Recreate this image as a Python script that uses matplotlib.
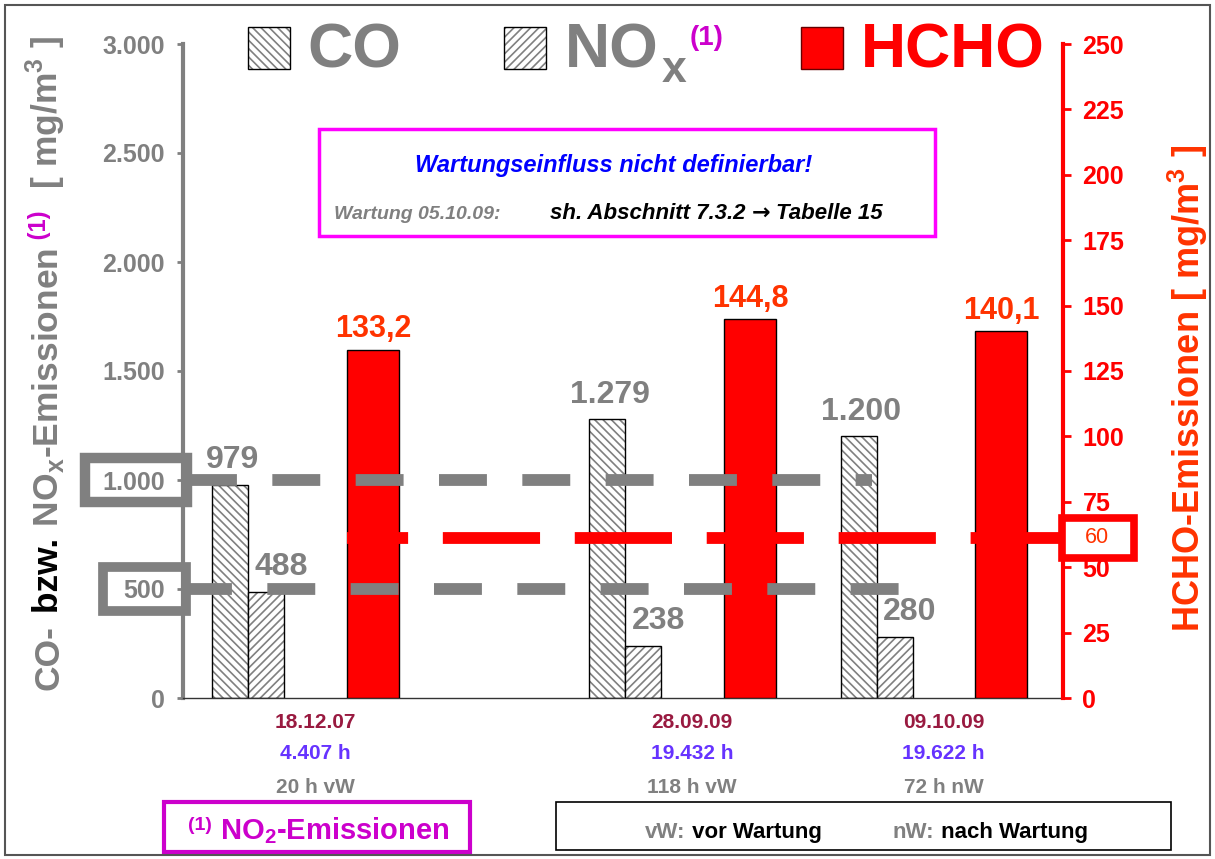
import matplotlib
matplotlib.use('Agg')
import matplotlib.pyplot as plt
import matplotlib.transforms as mtransforms
from matplotlib.patches import Rectangle
from matplotlib import font_manager

# data
dates = ['18.12.07', '28.09.09', '09.10.09']
hours = ['4.407 h', '19.432 h', '19.622 h']
runtime = ['20 h vW', '118 h vW', '72 h nW']
co = [979, 1279, 1200]
nox = [488, 238, 280]
hcho = [133.2, 144.8, 140.1]
co_ticks = [0, 500, 1000, 1500, 2000, 2500, 3000]
hcho_ticks = [0, 25, 50, 75, 100, 125, 150, 175, 200, 225, 250]
limits_co_nox = [1000, 500]
limit_hcho = 60

W, H = 1215, 859
GRAY = '#808080'
RED = '#FF0000'
ORANGE = '#FF3300'
MAG = '#CC00CC'

plt.rcParams['font.family'] = ['Liberation Sans', 'DejaVu Sans']
plt.rcParams['hatch.linewidth'] = 1.2
plt.rcParams['lines.scale_dashes'] = False
names = {f.name for f in font_manager.fontManager.ttflist}
NARROW = ['Liberation Sans Narrow', 'Liberation Sans', 'DejaVu Sans'] if 'Liberation Sans Narrow' in names \
    else ['Liberation Sans', 'DejaVu Sans']


def de(v, dec=0):
    s = f'{v:,.{dec}f}'
    return s.replace(',', '#').replace('.', ',').replace('#', '.')


def fx(px):
    return px / W


def fy(py):
    return 1 - py / H


fig = plt.figure(figsize=(W / 100, H / 100), dpi=100)
ax = fig.add_axes([fx(183), fy(698), fx(1063 - 183), (698 - 44) / H])
ax2 = ax.twinx()
ax.set_xlim(0, 7)
ax.set_ylim(0, 3000)
ax2.set_ylim(0, 250)

slots = [1, 4, 6]
w_small, w_big = 0.286, 0.414
off_co, off_nox, off_hcho = -0.625, -0.34, 0.51

x_co = [s + off_co for s in slots]
x_nox = [s + off_nox for s in slots]
x_hcho = [s + off_hcho for s in slots]

# hatched bars: hatch in gray, outline in black
ax.bar(x_co, co, w_small, color='white', edgecolor=GRAY, hatch=r'\\\\', linewidth=0, zorder=2)
ax.bar(x_co, co, w_small, fill=False, edgecolor='black', linewidth=1, zorder=2)
ax.bar(x_nox, nox, w_small, color='white', edgecolor=GRAY, hatch='////', linewidth=0, zorder=2)
ax.bar(x_nox, nox, w_small, fill=False, edgecolor='black', linewidth=1, zorder=2)
ax2.bar(x_hcho, hcho, w_big, color=RED, edgecolor='black', linewidth=1, zorder=2)

lab = dict(color=GRAY, fontsize=23, fontweight='bold', ha='center', va='baseline')
for x, v in zip(x_co, co):
    ax.annotate(de(v), (x, v), xytext=(2, 12), textcoords='offset points', **lab)
for x, v in zip(x_nox, nox):
    ax.annotate(de(v), (x, v), xytext=(11, 12), textcoords='offset points', **lab)
for x, v in zip(x_hcho, hcho):
    ax2.annotate(de(v, 1), (x, v), xytext=(0, 9), textcoords='offset points',
                 color=ORANGE, fontsize=22, fontweight='bold', ha='center', va='baseline')

# reference lines (drawn on ax2 so they lie above every bar)
starts = [0.048, 0.008]
ends = [5.48, 5.70]
for y, x0, x1 in zip(limits_co_nox, starts, ends):
    ln, = ax2.plot([x0, x1], [y, y], color=GRAY, lw=8.5, transform=ax.transData, zorder=5,
                   solid_capstyle='butt', dash_capstyle='butt')
    ln.set_linestyle((0, (34.5, 25.5)))
ln, = ax2.plot([1.305, 7.0], [limit_hcho + 1.2, limit_hcho + 1.2], color=RED, lw=8.5, zorder=4,
               dash_capstyle='butt')
ln.set_linestyle((26, (70, 25)))

# axes styling
for s in ['top', 'right']:
    ax.spines[s].set_visible(False)
ax.spines['left'].set_color(GRAY)
ax.spines['left'].set_linewidth(3)
ax.spines['bottom'].set_color('#333333')
ax.spines['bottom'].set_linewidth(1)
for s in ['top', 'left', 'bottom']:
    ax2.spines[s].set_visible(False)
ax2.spines['right'].set_color(RED)
ax2.spines['right'].set_linewidth(3)

ax.set_xticks([])
ax.set_yticks(co_ticks)
ax.set_yticklabels([de(t) for t in co_ticks], fontweight='bold')
ax.tick_params(axis='y', colors=GRAY, width=2, length=4, labelsize=18, pad=9)
ax2.set_yticks(hcho_ticks)
ax2.set_yticklabels([str(t) for t in hcho_ticks], fontweight='bold')
ax2.tick_params(axis='y', colors=RED, width=2, length=6, labelsize=18, pad=8)

# category labels below the axis
bt = mtransforms.blended_transform_factory(ax.transData, fig.transFigure)
for s, d, h, r in zip(slots, dates, hours, runtime):
    ax.text(s + 0.05, fy(728), d, transform=bt, ha='center', va='baseline', color='#991A40',
            fontsize=15, family=NARROW, fontweight='bold')
    ax.text(s + 0.05, fy(759), h, transform=bt, ha='center', va='baseline', color='#6633FF',
            fontsize=15, family=NARROW, fontweight='bold')
    ax.text(s + 0.05, fy(793), r, transform=bt, ha='center', va='baseline', color=GRAY,
            fontsize=15, family=NARROW, fontweight='bold')

renderer = fig.canvas.get_renderer()


def run(x, y, pieces, rot=False, gap=0):
    # pieces: (text, props, shift in px perpendicular to the baseline)
    for s, kw, shift in pieces:
        if not rot:
            t = fig.text(fx(x), fy(y + shift), s, ha='left', va='baseline', **kw)
            bb = t.get_window_extent(renderer)
            x = bb.x1 + gap
        else:
            t = fig.text(fx(x + shift), fy(y), s, rotation=90, rotation_mode='anchor',
                         ha='left', va='baseline', **kw)
            bb = t.get_window_extent(renderer)
            y = H - bb.y1 - gap


# axis titles
big = dict(fontsize=25.5, fontweight='bold')
run(58, 690, [('CO-', dict(color=GRAY, **big), 0),
              (' bzw.', dict(color='black', **big), 0),
              (r' NO$_\mathregular{x}$-Emissionen', dict(color=GRAY, **big), 0),
              (' (1)', dict(color=MAG, fontsize=17, fontweight='bold'), -12),
              (r'  [ mg/m$^\mathregular{3}$ ]', dict(color=GRAY, **big), 0)], rot=True, gap=2)
run(1200, 632, [(r'HCHO-Emissionen [ mg/m$^\mathregular{3}$ ]', dict(color=ORANGE, fontsize=26,
                                                                     fontweight='bold'), 0)], rot=True)

# legend on top
leg = dict(fontsize=45, fontweight='bold')
fig.add_artist(Rectangle((fx(248), fy(69)), fx(42), 42 / H, facecolor='white', edgecolor=GRAY,
                         hatch=r'\\\\', lw=0))
fig.add_artist(Rectangle((fx(248), fy(69)), fx(42), 42 / H, fill=False, edgecolor='black', lw=1))
run(307, 68, [('CO', dict(color=GRAY, **leg), 0)])
fig.add_artist(Rectangle((fx(504), fy(69)), fx(42), 42 / H, facecolor='white', edgecolor=GRAY,
                         hatch='////', lw=0))
fig.add_artist(Rectangle((fx(504), fy(69)), fx(42), 42 / H, fill=False, edgecolor='black', lw=1))
run(565, 68, [('NO', dict(color=GRAY, **leg), 0),
              ('x', dict(color=GRAY, fontsize=32, fontweight='bold'), 14),
              ('(1)', dict(color=MAG, fontsize=20, fontweight='bold'), -23)], gap=3)
fig.add_artist(Rectangle((fx(801), fy(69)), fx(42), 42 / H, facecolor=RED, edgecolor='#660000', lw=1))
run(861, 68, [('HCHO', dict(color=RED, **leg), 0)])

# note box
fig.add_artist(Rectangle((fx(319), fy(236)), fx(935 - 319), (236 - 129) / H, fill=False,
                         edgecolor='#FF00FF', lw=2.5))
fig.text(fx(614), fy(172), 'Wartungseinfluss nicht definierbar!', ha='center', va='baseline',
         color='#0000FF', fontsize=17, fontweight='bold', style='italic')
fig.text(fx(334), fy(219), 'Wartung 05.10.09:', ha='left', va='baseline',
         color=GRAY, fontsize=14, fontweight='bold', style='italic')
note = dict(color='black', fontsize=16, fontweight='bold', style='italic')
run(550, 219, [('sh. Abschnitt 7.3.2', note, 0),
               ('\u2192', dict(note, family=['DejaVu Sans'], style='normal'), 0),
               ('Tabelle 15', note, 0)], gap=6)

# boxes round the limit values
tl = mtransforms.blended_transform_factory(fig.transFigure, ax.transData)
tr = mtransforms.blended_transform_factory(fig.transFigure, ax2.transData)
fig.add_artist(Rectangle((fx(85), limits_co_nox[0] - 101), fx(102), 202, transform=tl,
                         fill=False, edgecolor=GRAY, lw=7.5))
fig.add_artist(Rectangle((fx(103), limits_co_nox[1] - 103), fx(83), 206, transform=tl,
                         fill=False, edgecolor=GRAY, lw=7))
fig.add_artist(Rectangle((fx(1061.5), limit_hcho + 1.2 - 7.7), fx(72), 15.4, transform=tr,
                         facecolor='white', edgecolor=RED, lw=5.5))
fig.text(fx(1097), limit_hcho + 1.2, str(limit_hcho), transform=tr, ha='center', va='center',
         color=ORANGE, fontsize=15.5, zorder=5)

# footnote boxes
fig.add_artist(Rectangle((fx(164), fy(852)), fx(306), 50 / H, fill=False, edgecolor=MAG, lw=3))
run(188, 839, [('(1)', dict(color=MAG, fontsize=14, fontweight='bold', family=NARROW), -9),
               (r' NO$_\mathregular{2}$-Emissionen', dict(color=MAG, fontsize=21, fontweight='bold',
                                                          family=NARROW), 0)])
fig.add_artist(Rectangle((fx(556), fy(850)), fx(615), 48 / H, fill=False, edgecolor='black', lw=1.2))
small = dict(fontsize=16, fontweight='bold', family=NARROW)
run(645, 838, [('vW:', dict(color=GRAY, **small), 0),
               (' vor Wartung', dict(color='black', **small), 0)])
run(893, 838, [('nW:', dict(color=GRAY, **small), 0),
               (' nach Wartung', dict(color='black', **small), 0)])

# frame round the picture
fig.add_artist(Rectangle((fx(5), fy(855)), fx(1205), 850 / H, fill=False, edgecolor='#555555', lw=1.5))

fig.savefig('out.png', dpi=100)
